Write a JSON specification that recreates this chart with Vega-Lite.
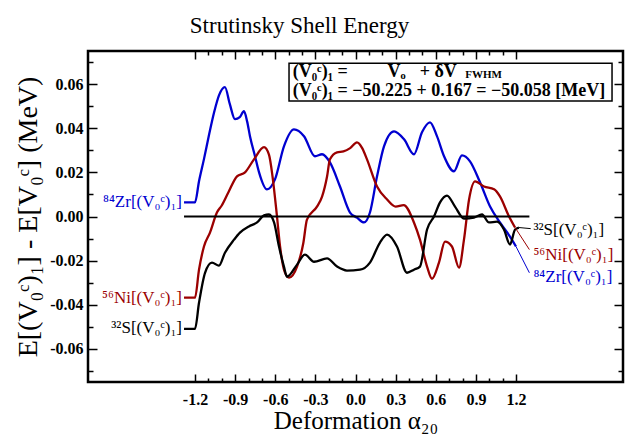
{
  "$schema": "https://vega.github.io/schema/vega-lite/v6.json",
  "width": 535,
  "height": 331,
  "autosize": "none",
  "padding": {"left": 88, "top": 51, "right": 6, "bottom": 52},
  "background": "white",
  "config": {"view": {"stroke": "black", "strokeWidth": 2.5}},
  "title": {"text": "Strutinsky Shell Energy", "font": "Liberation Serif", "fontSize": 23, "fontWeight": "normal", "color": "black", "baseline": "alphabetic", "frame": "group", "offset": -6, "dx": -56},
  "datasets": {
    "curves": [
      {"s": "Zr", "x": -1.282, "y": 0.0064}, {"s": "Zr", "x": -1.2, "y": 0.0064}, {"s": "Zr", "x": -1.17, "y": 0.016}, {"s": "Zr", "x": -1.133, "y": 0.026}, {"s": "Zr", "x": -1.095, "y": 0.037}, {"s": "Zr", "x": -1.058, "y": 0.047}, {"s": "Zr", "x": -1.02, "y": 0.055}, {"s": "Zr", "x": -0.976, "y": 0.0586}, {"s": "Zr", "x": -0.94, "y": 0.051}, {"s": "Zr", "x": -0.901, "y": 0.0441}, {"s": "Zr", "x": -0.865, "y": 0.045}, {"s": "Zr", "x": -0.834, "y": 0.0477}, {"s": "Zr", "x": -0.81, "y": 0.043}, {"s": "Zr", "x": -0.789, "y": 0.0364}, {"s": "Zr", "x": -0.75, "y": 0.027}, {"s": "Zr", "x": -0.721, "y": 0.02}, {"s": "Zr", "x": -0.662, "y": 0.0123}, {"s": "Zr", "x": -0.602, "y": 0.0168}, {"s": "Zr", "x": -0.535, "y": 0.0318}, {"s": "Zr", "x": -0.46, "y": 0.0395}, {"s": "Zr", "x": -0.385, "y": 0.0364}, {"s": "Zr", "x": -0.303, "y": 0.0273}, {"s": "Zr", "x": -0.25, "y": 0.0282}, {"s": "Zr", "x": -0.191, "y": 0.0245}, {"s": "Zr", "x": -0.116, "y": 0.0136}, {"s": "Zr", "x": -0.041, "y": 0.0018}, {"s": "Zr", "x": 0.011, "y": -0.0005}, {"s": "Zr", "x": 0.064, "y": -0.0027}, {"s": "Zr", "x": 0.108, "y": 0.0018}, {"s": "Zr", "x": 0.161, "y": 0.0182}, {"s": "Zr", "x": 0.213, "y": 0.0318}, {"s": "Zr", "x": 0.288, "y": 0.0386}, {"s": "Zr", "x": 0.363, "y": 0.035}, {"s": "Zr", "x": 0.437, "y": 0.0282}, {"s": "Zr", "x": 0.497, "y": 0.0382}, {"s": "Zr", "x": 0.557, "y": 0.0427}, {"s": "Zr", "x": 0.609, "y": 0.0364}, {"s": "Zr", "x": 0.662, "y": 0.0273}, {"s": "Zr", "x": 0.736, "y": 0.0205}, {"s": "Zr", "x": 0.796, "y": 0.0277}, {"s": "Zr", "x": 0.856, "y": 0.025}, {"s": "Zr", "x": 0.931, "y": 0.0155}, {"s": "Zr", "x": 1.006, "y": 0.0045}, {"s": "Zr", "x": 1.08, "y": -0.0027}, {"s": "Zr", "x": 1.155, "y": -0.0091}, {"s": "Zr", "x": 1.2, "y": -0.0136},
      {"s": "Ni", "x": -1.282, "y": -0.0368}, {"s": "Ni", "x": -1.2, "y": -0.0368}, {"s": "Ni", "x": -1.17, "y": -0.0241}, {"s": "Ni", "x": -1.133, "y": -0.0136}, {"s": "Ni", "x": -1.088, "y": -0.0073}, {"s": "Ni", "x": -1.036, "y": 0.0018}, {"s": "Ni", "x": -1.0, "y": 0.005}, {"s": "Ni", "x": -0.95, "y": 0.011}, {"s": "Ni", "x": -0.886, "y": 0.0182}, {"s": "Ni", "x": -0.826, "y": 0.02}, {"s": "Ni", "x": -0.759, "y": 0.0259}, {"s": "Ni", "x": -0.684, "y": 0.0314}, {"s": "Ni", "x": -0.647, "y": 0.028}, {"s": "Ni", "x": -0.62, "y": 0.018}, {"s": "Ni", "x": -0.587, "y": 0.0}, {"s": "Ni", "x": -0.564, "y": -0.0136}, {"s": "Ni", "x": -0.53, "y": -0.025}, {"s": "Ni", "x": -0.497, "y": -0.0277}, {"s": "Ni", "x": -0.437, "y": -0.0227}, {"s": "Ni", "x": -0.39, "y": -0.012}, {"s": "Ni", "x": -0.363, "y": -0.0014}, {"s": "Ni", "x": -0.288, "y": 0.0045}, {"s": "Ni", "x": -0.25, "y": 0.009}, {"s": "Ni", "x": -0.213, "y": 0.018}, {"s": "Ni", "x": -0.191, "y": 0.0259}, {"s": "Ni", "x": -0.138, "y": 0.0291}, {"s": "Ni", "x": -0.09, "y": 0.0295}, {"s": "Ni", "x": -0.04, "y": 0.031}, {"s": "Ni", "x": 0.011, "y": 0.0336}, {"s": "Ni", "x": 0.05, "y": 0.031}, {"s": "Ni", "x": 0.086, "y": 0.0259}, {"s": "Ni", "x": 0.161, "y": 0.0136}, {"s": "Ni", "x": 0.236, "y": 0.0077}, {"s": "Ni", "x": 0.3, "y": 0.0045}, {"s": "Ni", "x": 0.36, "y": 0.0052}, {"s": "Ni", "x": 0.437, "y": -0.0027}, {"s": "Ni", "x": 0.482, "y": -0.0105}, {"s": "Ni", "x": 0.535, "y": -0.0227}, {"s": "Ni", "x": 0.572, "y": -0.0282}, {"s": "Ni", "x": 0.624, "y": -0.0209}, {"s": "Ni", "x": 0.669, "y": -0.0114}, {"s": "Ni", "x": 0.721, "y": -0.0136}, {"s": "Ni", "x": 0.774, "y": -0.0232}, {"s": "Ni", "x": 0.811, "y": -0.0105}, {"s": "Ni", "x": 0.849, "y": 0.0077}, {"s": "Ni", "x": 0.894, "y": 0.0159}, {"s": "Ni", "x": 0.961, "y": 0.0136}, {"s": "Ni", "x": 1.036, "y": 0.0123}, {"s": "Ni", "x": 1.08, "y": 0.0091}, {"s": "Ni", "x": 1.148, "y": 0.0}, {"s": "Ni", "x": 1.193, "y": -0.005},
      {"s": "S", "x": -1.282, "y": -0.0509}, {"s": "S", "x": -1.2, "y": -0.0509}, {"s": "S", "x": -1.17, "y": -0.0391}, {"s": "S", "x": -1.125, "y": -0.0255}, {"s": "S", "x": -1.073, "y": -0.0209}, {"s": "S", "x": -1.021, "y": -0.0223}, {"s": "S", "x": -0.976, "y": -0.0164}, {"s": "S", "x": -0.908, "y": -0.0105}, {"s": "S", "x": -0.864, "y": -0.0073}, {"s": "S", "x": -0.797, "y": -0.0045}, {"s": "S", "x": -0.736, "y": -0.0027}, {"s": "S", "x": -0.684, "y": 0.0005}, {"s": "S", "x": -0.647, "y": 0.0009}, {"s": "S", "x": -0.609, "y": -0.0027}, {"s": "S", "x": -0.572, "y": -0.0136}, {"s": "S", "x": -0.535, "y": -0.0227}, {"s": "S", "x": -0.512, "y": -0.0273}, {"s": "S", "x": -0.437, "y": -0.0218}, {"s": "S", "x": -0.378, "y": -0.0173}, {"s": "S", "x": -0.31, "y": -0.0205}, {"s": "S", "x": -0.213, "y": -0.019}, {"s": "S", "x": -0.138, "y": -0.0227}, {"s": "S", "x": -0.064, "y": -0.0245}, {"s": "S", "x": 0.034, "y": -0.0241}, {"s": "S", "x": 0.108, "y": -0.0209}, {"s": "S", "x": 0.183, "y": -0.0118}, {"s": "S", "x": 0.236, "y": -0.0082}, {"s": "S", "x": 0.31, "y": -0.0136}, {"s": "S", "x": 0.385, "y": -0.0255}, {"s": "S", "x": 0.437, "y": -0.0241}, {"s": "S", "x": 0.482, "y": -0.0227}, {"s": "S", "x": 0.535, "y": -0.0059}, {"s": "S", "x": 0.587, "y": 0.0}, {"s": "S", "x": 0.632, "y": 0.0064}, {"s": "S", "x": 0.684, "y": 0.0095}, {"s": "S", "x": 0.744, "y": 0.0045}, {"s": "S", "x": 0.811, "y": -0.0009}, {"s": "S", "x": 0.886, "y": -0.0005}, {"s": "S", "x": 0.946, "y": 0.0009}, {"s": "S", "x": 0.998, "y": -0.0027}, {"s": "S", "x": 1.058, "y": -0.0023}, {"s": "S", "x": 1.11, "y": -0.0059}, {"s": "S", "x": 1.155, "y": -0.0127}, {"s": "S", "x": 1.193, "y": -0.0059}, {"s": "S", "x": 1.222, "y": -0.005}
    ],
    "leaders": [
      {"s": "S", "x": 1.222, "y": -0.005}, {"s": "S", "x": 1.31, "y": -0.0055},
      {"s": "Ni", "x": 1.193, "y": -0.005}, {"s": "Ni", "x": 1.3, "y": -0.015},
      {"s": "Zr", "x": 1.2, "y": -0.0136}, {"s": "Zr", "x": 1.3, "y": -0.0255}
    ],
    "zero": [{"x": -1.282, "y": 0}, {"x": 1.3, "y": 0}],
    "leftLabels": [
      {"s": "Zr", "t": "⁸⁴Zr[(V₀ᶜ)₁]", "x": -1.297, "y": 0.0064},
      {"s": "Ni", "t": "⁵⁶Ni[(V₀ᶜ)₁]", "x": -1.297, "y": -0.0368},
      {"s": "S", "t": "³²S[(V₀ᶜ)₁]", "x": -1.297, "y": -0.0505}
    ],
    "rightLabels": [
      {"s": "S", "t": "³²S[(V₀ᶜ)₁]", "x": 1.33, "y": -0.0059},
      {"s": "Ni", "t": "⁵⁶Ni[(V₀ᶜ)₁]", "x": 1.33, "y": -0.0173},
      {"s": "Zr", "t": "⁸⁴Zr[(V₀ᶜ)₁]", "x": 1.33, "y": -0.0273}
    ],
    "box": [{"x1": -0.497, "x2": 1.918, "y1": 0.0695, "y2": 0.0523}],
    "boxText": [
      {"t": "(V₀ᶜ)₁ =", "x": -0.47, "y": 0.0655},
      {"t": "Vₒ", "x": 0.24, "y": 0.0655},
      {"t": "+ δV", "x": 0.48, "y": 0.0655},
      {"t": "(V₀ᶜ)₁ = −50.225 + 0.167 = −50.058 [MeV]", "x": -0.47, "y": 0.0568}
    ],
    "boxSub": [{"t": "FWHM", "x": 0.82, "y": 0.0643}]
  },
  "resolve": {"axis": {"x": "independent", "y": "independent"}},
  "layer": [
    {
      "data": {"name": "curves"},
      "mark": {"type": "line", "strokeWidth": 2.3, "interpolate": "monotone"},
      "encoding": {
        "x": {"field": "x", "type": "quantitative", "scale": {"domain": [-2, 2], "nice": false, "zero": false},
          "axis": {"orient": "bottom", "values": [-1.2, -1.1, -1.0, -0.9, -0.8, -0.7, -0.6, -0.5, -0.4, -0.3, -0.2, -0.1, 0, 0.1, 0.2, 0.3, 0.4, 0.5, 0.6, 0.7, 0.8, 0.9, 1.0, 1.1, 1.2],
            "labelExpr": "round(datum.value*10) % 3 == 0 ? replace(format(datum.value, '.1f'), '−', '-') : ''",
            "tickSize": {"condition": {"test": "round(datum.value*10) % 3 == 0", "value": -8}, "value": -4},
            "labelPadding": 17, "domain": false, "grid": false, "tickColor": "black", "tickWidth": 1.5,
            "labelFont": "Liberation Serif", "labelFontSize": 16, "labelFontWeight": "bold", "labelColor": "black", "labelFlush": false, "labelOverlap": false,
            "title": "Deformation α₂₀", "titleFont": "Liberation Serif", "titleFontSize": 25, "titleFontWeight": "normal", "titleColor": "black", "titlePadding": -3}},
        "y": {"field": "y", "type": "quantitative", "scale": {"domain": [-0.075, 0.075], "nice": false, "zero": false},
          "axis": {"orient": "left", "values": [-0.07, -0.06, -0.05, -0.04, -0.03, -0.02, -0.01, 0, 0.01, 0.02, 0.03, 0.04, 0.05, 0.06, 0.07],
            "labelExpr": "round(datum.value*100) % 2 == 0 ? replace(format(datum.value, '.2f'), '−', '-') : ''",
            "tickSize": {"condition": {"test": "round(datum.value*100) % 2 == 0", "value": -9}, "value": -5},
            "labelPadding": 14, "domain": false, "grid": false, "tickColor": "black", "tickWidth": 1.5,
            "labelFont": "Liberation Serif", "labelFontSize": 16, "labelFontWeight": "bold", "labelColor": "black", "labelFlush": false, "labelOverlap": false,
            "title": "E[(V₀ᶜ)₁] - E[V₀ᶜ] (MeV)", "titleFont": "Liberation Serif", "titleFontSize": 28, "titleFontWeight": "normal", "titleColor": "black", "titlePadding": 7}},
        "color": {"field": "s", "type": "nominal", "scale": {"domain": ["Zr", "Ni", "S"], "range": ["#0000d0", "#9b0000", "#000000"]}, "legend": null}
      }
    },
    {
      "data": {"name": "zero"},
      "mark": {"type": "line", "color": "black", "strokeWidth": 2},
      "encoding": {
        "x": {"field": "x", "type": "quantitative",
          "axis": {"orient": "top", "values": [-1.2, -1.1, -1.0, -0.9, -0.8, -0.7, -0.6, -0.5, -0.4, -0.3, -0.2, -0.1, 0, 0.1, 0.2, 0.3, 0.4, 0.5, 0.6, 0.7, 0.8, 0.9, 1.0, 1.1, 1.2],
            "labels": false, "title": null, "domain": false, "grid": false, "tickColor": "black", "tickWidth": 1.5,
            "tickSize": {"condition": {"test": "round(datum.value*10) % 3 == 0", "value": -8}, "value": -4}}},
        "y": {"field": "y", "type": "quantitative",
          "axis": {"orient": "right", "values": [-0.07, -0.06, -0.05, -0.04, -0.03, -0.02, -0.01, 0, 0.01, 0.02, 0.03, 0.04, 0.05, 0.06, 0.07],
            "labels": false, "title": null, "domain": false, "grid": false, "tickColor": "black", "tickWidth": 1.5,
            "tickSize": {"condition": {"test": "round(datum.value*100) % 2 == 0", "value": -9}, "value": -5}}}
      }
    },
    {
      "data": {"name": "leaders"},
      "mark": {"type": "line", "strokeWidth": 1},
      "encoding": {
        "x": {"field": "x", "type": "quantitative", "axis": null},
        "y": {"field": "y", "type": "quantitative", "axis": null},
        "detail": {"field": "s"},
        "color": {"field": "s", "type": "nominal", "legend": null}
      }
    },
    {
      "data": {"name": "leftLabels"},
      "mark": {"type": "text", "align": "right", "baseline": "middle", "font": "Liberation Serif", "fontSize": 17},
      "encoding": {
        "x": {"field": "x", "type": "quantitative", "axis": null},
        "y": {"field": "y", "type": "quantitative", "axis": null},
        "text": {"field": "t"},
        "color": {"field": "s", "type": "nominal", "legend": null}
      }
    },
    {
      "data": {"name": "rightLabels"},
      "mark": {"type": "text", "align": "left", "baseline": "middle", "font": "Liberation Serif", "fontSize": 17},
      "encoding": {
        "x": {"field": "x", "type": "quantitative", "axis": null},
        "y": {"field": "y", "type": "quantitative", "axis": null},
        "text": {"field": "t"},
        "color": {"field": "s", "type": "nominal", "legend": null}
      }
    },
    {
      "data": {"name": "box"},
      "mark": {"type": "rect", "fill": "white", "stroke": "black", "strokeWidth": 1.5},
      "encoding": {
        "x": {"field": "x1", "type": "quantitative", "axis": null},
        "x2": {"field": "x2"},
        "y": {"field": "y1", "type": "quantitative", "axis": null},
        "y2": {"field": "y2"}
      }
    },
    {
      "data": {"name": "boxText"},
      "mark": {"type": "text", "align": "left", "baseline": "middle", "font": "Liberation Serif", "fontSize": 18, "fontWeight": "bold", "color": "black"},
      "encoding": {
        "x": {"field": "x", "type": "quantitative", "axis": null},
        "y": {"field": "y", "type": "quantitative", "axis": null},
        "text": {"field": "t"}
      }
    },
    {
      "data": {"name": "boxSub"},
      "mark": {"type": "text", "align": "left", "baseline": "middle", "font": "Liberation Serif", "fontSize": 11, "fontWeight": "bold", "color": "black"},
      "encoding": {
        "x": {"field": "x", "type": "quantitative", "axis": null},
        "y": {"field": "y", "type": "quantitative", "axis": null},
        "text": {"field": "t"}
      }
    }
  ]
}
